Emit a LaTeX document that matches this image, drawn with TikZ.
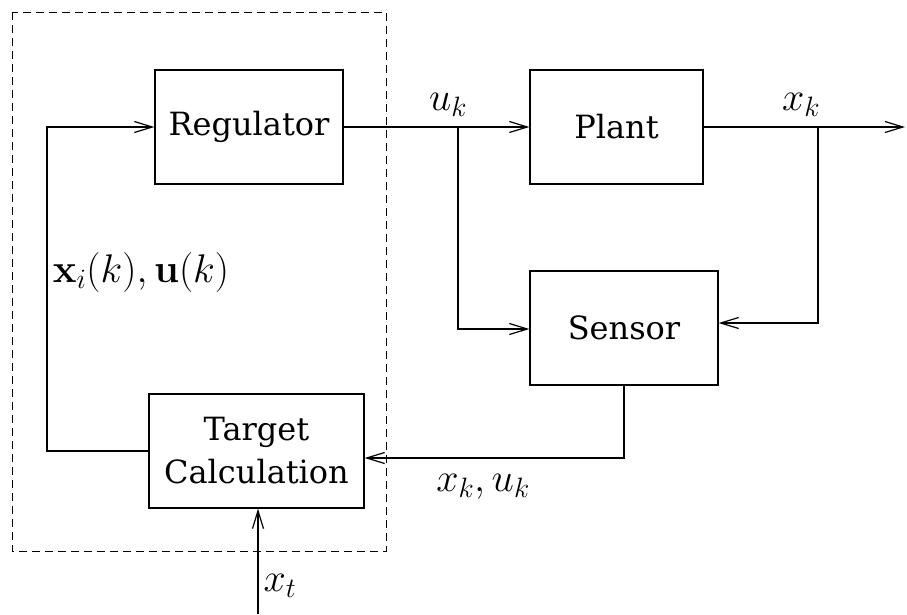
\RequirePackage{fix-cm}
\documentclass[tikz,border=0pt]{standalone}
\usepackage[no-math]{fontspec}
\setmainfont{DejaVu Serif}
\usetikzlibrary{arrows.meta}
\begin{document}
\begin{tikzpicture}[x=1pt,y=-1pt,
  blk/.style={draw,line width=1.2pt,minimum width=#1,minimum height=114pt,inner sep=0pt,align=center,font=\fontsize{32}{43}\selectfont},
  blk/.default=188pt,
  wire/.style={line width=1.2pt},
  arr/.style={wire,-{Straight Barb[length=18pt,width=11pt,line width=1.2pt]}},
  lbl/.style={font=\fontsize{40}{46}\selectfont,inner sep=0pt}]
\useasboundingbox (0,0) rectangle (907,614);
% controller boundary
\draw[dashed,line width=1pt,dash pattern=on 8pt off 5pt] (12,12) rectangle (386,551);
% blocks
\node[blk=188pt] (reg) at (249,127) {Regulator};
\node[blk=173pt] (plant) at (616.5,127) {Plant};
\node[blk=188pt] (sens) at (624,328) {Sensor};
\node[blk=215pt] (tgt) at (256.5,451) {Target\\Calculation};
% junctions and free ends
\coordinate (ju) at (458,127);
\coordinate (jx) at (818,127);
\coordinate (out) at (905,127);
\coordinate (xtin) at (258,614);
% forward path
\draw[arr] (reg.east) -- (plant.west);
\draw[arr] (plant.east) -- (out);
\draw[arr] (ju) |- ([yshift=-1pt]sens.west);
\draw[arr] (jx) |- ([yshift=5pt]sens.east);
% feedback path
\draw[arr] (sens.south) |- ([yshift=-7pt]tgt.east);
\draw[arr] (tgt.west) -| (47,127) -- (reg.west);
\draw[arr] (xtin) -- (tgt.south -| xtin);
% labels
\node[lbl] (lu) at (448,105) {$u_k$};
\node[lbl] (lx) at (801,105) {$x_k$};
\node[lbl] (lxu) at (483,487) {$x_k,u_k$};
\node[lbl] (lxi) at (141,272) {$\mathbf{x}_i(k),\mathbf{u}(k)$};
\node[lbl] (lxt) at (280,586) {$x_t$};
\end{tikzpicture}
\end{document}
